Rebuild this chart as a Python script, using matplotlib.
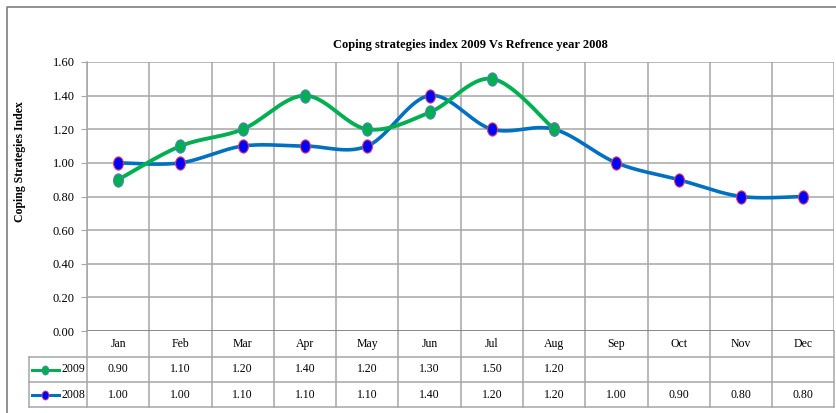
import numpy as np
import matplotlib
matplotlib.use('Agg')
import matplotlib.pyplot as plt
from matplotlib.path import Path
from matplotlib.transforms import Affine2D

plt.rcParams['font.family'] = ['Liberation Serif', 'DejaVu Serif']

months = ['Jan', 'Feb', 'Mar', 'Apr', 'May', 'Jun', 'Jul', 'Aug', 'Sep', 'Oct', 'Nov', 'Dec']
vals_2009 = [0.90, 1.10, 1.20, 1.40, 1.20, 1.30, 1.50, 1.20]
vals_2008 = [1.00, 1.00, 1.10, 1.10, 1.10, 1.40, 1.20, 1.20, 1.00, 0.90, 0.80, 0.80]
yticks = [0.0, 0.2, 0.4, 0.6, 0.8, 1.0, 1.2, 1.4, 1.6]

GREEN = '#00B050'
BLUE = '#0070C0'
GRID = '#A6A6A6'

W, H = 837, 413
fig = plt.figure(figsize=(W / 100, H / 100), dpi=100)

# background axes in pixel coords for frame + data table
bg = fig.add_axes([0, 0, 1, 1])
bg.set_xlim(0, W)
bg.set_ylim(H, 0)
bg.axis('off')

L, R, T, B = 87, 834.5, 62, 331
ax = fig.add_axes([L / W, 1 - B / H, (R - L) / W, (B - T) / H])


def smooth(x, y, n=30, tension=0.5):
    # cardinal spline through points (Excel-like smoothed line)
    x = np.asarray(x, float)
    y = np.asarray(y, float)
    px = np.concatenate([[x[0]], x, [x[-1]]])
    py = np.concatenate([[y[0]], y, [y[-1]]])
    xs, ys = [], []
    t = np.linspace(0, 1, n)
    h1 = 2 * t**3 - 3 * t**2 + 1
    h2 = -2 * t**3 + 3 * t**2
    h3 = t**3 - 2 * t**2 + t
    h4 = t**3 - t**2
    for i in range(1, len(px) - 2):
        m1x = tension * (px[i + 1] - px[i - 1])
        m1y = tension * (py[i + 1] - py[i - 1])
        m2x = tension * (px[i + 2] - px[i])
        m2y = tension * (py[i + 2] - py[i])
        xs.append(h1 * px[i] + h2 * px[i + 1] + h3 * m1x + h4 * m2x)
        ys.append(h1 * py[i] + h2 * py[i + 1] + h3 * m1y + h4 * m2y)
    return np.concatenate(xs), np.concatenate(ys)


ell = Path.unit_circle().transformed(Affine2D().scale(0.75, 1.0))

x09 = np.arange(len(vals_2009))
x08 = np.arange(len(vals_2008))
sx, sy = smooth(x08, vals_2008)
ax.plot(sx, sy, color=BLUE, lw=2.6, zorder=3, solid_capstyle='round')
ax.plot(x08, vals_2008, ls='none', marker=ell, ms=9.5, mfc='#0000FF',
        mec='#E0405A', mew=0.8, zorder=5)
sx, sy = smooth(x09, vals_2009)
ax.plot(sx, sy, color=GREEN, lw=2.8, zorder=4, solid_capstyle='round')
ax.plot(x09, vals_2009, ls='none', marker=ell, ms=9.5, mfc=GREEN,
        mec='#4F81BD', mew=0.8, zorder=6)

ax.set_xlim(-0.5, len(months) - 0.5)
ax.set_ylim(0, 1.6)
ax.set_yticks(yticks)
ax.set_yticklabels([f'{v:.2f}' for v in yticks], fontsize=9)
ax.set_xticks([])
ax.tick_params(axis='y', length=4, color=GRID, pad=5)
for yv in yticks[1:]:
    ax.axhline(yv, color=GRID, lw=1.1, zorder=1)
for k in range(len(months) + 1):
    ax.axvline(k - 0.5, color=GRID, lw=1.1, zorder=1)
for s in ['top', 'right', 'bottom']:
    ax.spines[s].set_visible(False)
ax.spines['left'].set_color(GRID)
ax.spines['left'].set_linewidth(1.1)
ax.axhline(0, color='#808080', lw=1.3, zorder=2)

bg.text(20, 162, 'Coping Strategies Index', rotation=90, ha='center', va='center',
        fontsize=8.5, fontweight='bold')
bg.text(470, 45, 'Coping strategies index 2009 Vs Refrence year 2008',
        ha='center', va='center', fontsize=9, fontweight='bold')

# outer chart frame
bg.plot([7, 7, W + 5], [H + 5, 7, 7], color='#7F7F7F', lw=1.2)

# data table
cw = (R - L) / len(months)
rows = [331, 357, 382, 407]
TL = 29
for k in range(len(months) + 1):
    bg.plot([L + k * cw] * 2, [rows[0], rows[3]], color=GRID, lw=1.1)
bg.plot([TL, TL], [rows[1], rows[3]], color=GRID, lw=1.1)
for yv in rows[1:]:
    bg.plot([TL, R], [yv, yv], color=GRID, lw=1.1)
for k, m in enumerate(months):
    cx = L + (k + 0.5) * cw
    bg.text(cx, (rows[0] + rows[1]) / 2, m, ha='center', va='center', fontsize=8.5)
for k, v in enumerate(vals_2009):
    bg.text(L + (k + 0.5) * cw, (rows[1] + rows[2]) / 2, f'{v:.2f}',
            ha='center', va='center', fontsize=8.5)
for k, v in enumerate(vals_2008):
    bg.text(L + (k + 0.5) * cw, (rows[2] + rows[3]) / 2, f'{v:.2f}',
            ha='center', va='center', fontsize=8.5)

for r, (lab, lc, fc, ec) in enumerate([('2009', GREEN, GREEN, '#4F81BD'),
                                        ('2008', BLUE, '#0000FF', '#E0405A')]):
    yc = (rows[r + 1] + rows[r + 2]) / 2
    bg.plot([32, 59], [yc, yc], color=lc, lw=2.2)
    bg.plot([45.5], [yc], ls='none', marker=ell, ms=6.5, mfc=fc, mec=ec, mew=0.6)
    bg.text(61.5, yc, lab, ha='left', va='center', fontsize=8.5)

fig.savefig('out.png', dpi=100, facecolor='white')
